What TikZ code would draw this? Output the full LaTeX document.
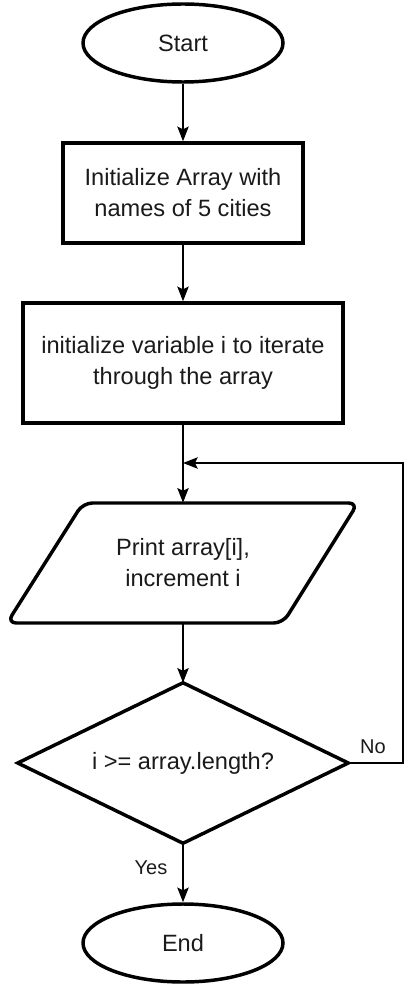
\documentclass[tikz,border=0pt]{standalone}
\usepackage{fontspec}
\setmainfont{Liberation Sans}
\usetikzlibrary{shapes.geometric,arrows.meta}
\definecolor{txt}{HTML}{1A1A1A}
\tikzset{
  px/.style={x=0.75pt,y=-0.75pt},
  shapeline/.style={line width=2.6pt,draw=black},
  mainfont/.style={font=\fontsize{17.7}{23.3}\selectfont,text=txt},
  term/.style={ellipse,shapeline,minimum width=150pt,minimum height=58.5pt,inner sep=0pt,mainfont},
  procbox/.style={rectangle,shapeline,inner sep=0pt,align=center,mainfont},
  holder/.style={rectangle,draw=none,inner sep=0pt,align=center,mainfont},
  conn/.style={line width=1.3pt,-{Stealth[length=11pt,width=8.5pt,inset=2pt]}},
  lbl/.style={font=\fontsize{15}{18}\selectfont,text=txt,inner sep=0pt}
}
\begin{document}
\begin{tikzpicture}[px]
\useasboundingbox (0,0) rectangle (420,984);
\node[term] (start) at (183,43) {Start};
\node[procbox,minimum width=180pt,minimum height=75pt] (init) at (183,193) {Initialize Array with\\names of 5 cities};
\node[procbox,minimum width=240pt,minimum height=90pt] (var) at (183,363) {initialize variable i to iterate\\through the array};
\node[holder,minimum width=200pt,minimum height=90pt] (print) at (183,563) {Print array[i],\\increment i};
\draw[shapeline,rounded corners=7pt,line join=round] (83,503) -- (358,503) -- (283,623) -- (7,623) -- cycle;
\node[holder,minimum width=247.5pt,minimum height=120pt] (dec) at (183,763) {i >= array.length?};
\draw[shapeline,line join=miter] (dec.north) -- (dec.east) -- (dec.south) -- (dec.west) -- cycle;
\node[term] (end) at (183,943) {End};
\coordinate (loopA) at (403,763);
\coordinate (loopB) at (403,463);
\coordinate (loopC) at (183,463);
\draw[conn] (start.south) -- (init.north);
\draw[conn] (init.south) -- (var.north);
\draw[conn] (var.south) -- (print.north);
\draw[conn] (print.south) -- (dec.north);
\draw[conn] (dec.south) -- (end.north);
\draw[conn] (dec.east) -- (loopA) -- (loopB) -- (loopC);
\node[lbl] (no) at (373,747) {No};
\node[lbl] (yes) at (151,868) {Yes};
\end{tikzpicture}
\end{document}
